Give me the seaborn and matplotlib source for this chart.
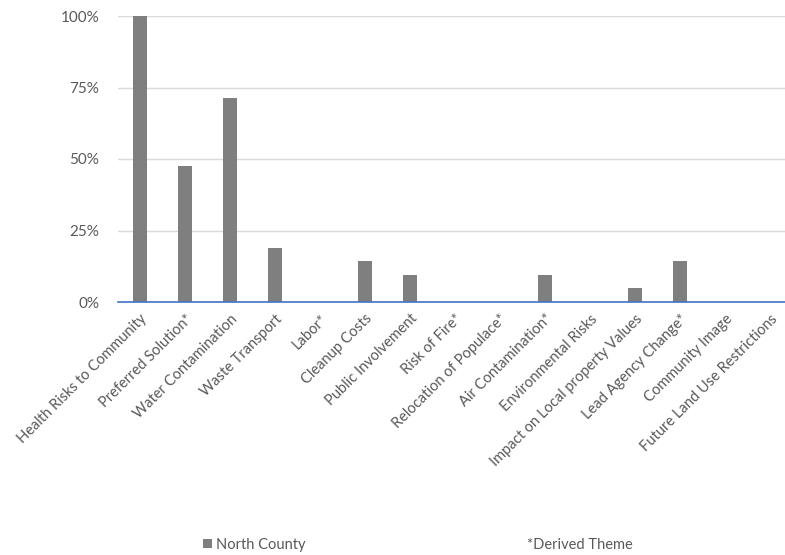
import matplotlib
matplotlib.use("Agg")
import matplotlib.pyplot as plt
import seaborn as sns
import pandas as pd
from matplotlib.ticker import FuncFormatter
from matplotlib.patches import Patch

categories = ["Health Risks to Community", "Preferred Solution*", "Water Contamination",
              "Waste Transport", "Labor*", "Cleanup Costs", "Public Involvement",
              "Risk of Fire*", "Relocation of Populace*", "Air Contamination*",
              "Environmental Risks", "Impact on Local property Values",
              "Lead Agency Change*", "Community Image", "Future Land Use Restrictions"]
north_county = [1.00, 0.476, 0.714, 0.19, 0.0, 0.143, 0.095, 0.0, 0.0, 0.095,
                0.0, 0.048, 0.143, 0.0, 0.0]
y_ticks = [0, 0.25, 0.5, 0.75, 1.0]

df = pd.DataFrame({"category": categories, "value": north_county})

sns.set_theme(style="white")
plt.rcParams["font.family"] = ["Lato", "DejaVu Sans"]

fig = plt.figure(figsize=(7.85, 5.55), dpi=100)
ax = fig.add_axes([117.5 / 785, 253 / 555, 675 / 785, 286 / 555])

sns.barplot(data=df, x="category", y="value", color="#7f7f7f", saturation=1,
            width=0.31, ax=ax, edgecolor="none")

ax.set_ylim(0, 1.0)
ax.set_xlim(-0.5, len(categories) - 0.5)
ax.set_yticks(y_ticks)
ax.yaxis.set_major_formatter(FuncFormatter(lambda v, p: f"{int(round(v * 100))}%"))
ax.grid(axis="y", color="#d9d9d9", linewidth=1)
ax.set_axisbelow(True)
for s in ["top", "right", "left"]:
    ax.spines[s].set_visible(False)
ax.spines["bottom"].set_color("#4472c4")
ax.spines["bottom"].set_linewidth(1.2)
ax.spines["bottom"].set_zorder(5)
ax.set_xlabel("")
ax.set_ylabel("")
ax.tick_params(axis="both", length=0, colors="#595959", labelsize=10.5)
ax.tick_params(axis="y", pad=13, labelsize=11)
ax.tick_params(axis="x", pad=7)
plt.setp(ax.get_xticklabels(), rotation=45, ha="right", rotation_mode="anchor")

handle = Patch(facecolor="#7f7f7f", edgecolor="none", label="North County")
fig.legend(handles=[handle], loc="center left", bbox_to_anchor=(203 / 785, 1 - 545 / 555),
           frameon=False, fontsize=10.5, labelcolor="#595959", handlelength=0.6,
           handleheight=0.6, handletextpad=0.3, borderpad=0, borderaxespad=0)
fig.text(527 / 785, 1 - 545 / 555, "*Derived Theme", fontsize=10.5, color="#595959",
         va="center", ha="left")

fig.savefig("out.png", dpi=100)
